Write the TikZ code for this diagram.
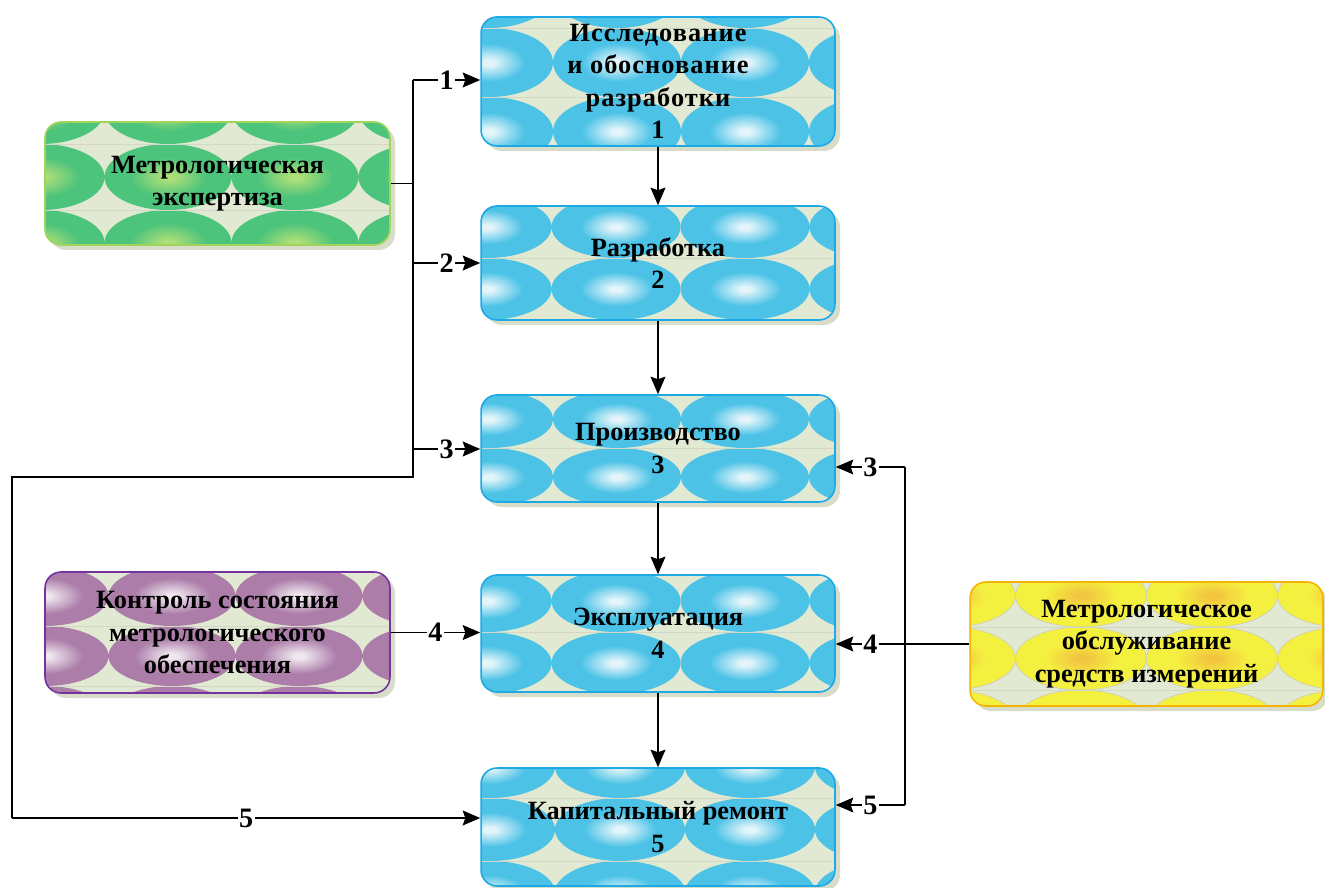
\documentclass[tikz,border=0pt]{standalone}
\usepackage{fontspec}
\setmainfont{Liberation Serif}
\usetikzlibrary{arrows.meta}

\definecolor{tilebg}{HTML}{E2E9D3}
\definecolor{seamc}{HTML}{D2D7C7}
\definecolor{shadowc}{HTML}{D8DDCA}
\definecolor{blueO}{HTML}{4BC2E6}
\definecolor{blueC}{HTML}{E4F5FA}
\definecolor{blueB}{HTML}{1CA9E6}
\definecolor{greenO}{HTML}{4DC47B}
\definecolor{greenC}{HTML}{AEDF78}
\definecolor{greenB}{HTML}{A2D35A}
\definecolor{purpO}{HTML}{AC7DA9}
\definecolor{purpC}{HTML}{F0E8F0}
\definecolor{purpB}{HTML}{7434A0}
\definecolor{yellO}{HTML}{F4F040}
\definecolor{yellC}{HTML}{F2C440}
\definecolor{yellB}{HTML}{F5B400}

\pgfdeclareradialshading{blueell}{\pgfpoint{0bp}{0bp}}{color(0bp)=(blueC);color(2bp)=(blueC);color(14bp)=(blueO);color(25bp)=(blueO);color(50bp)=(blueO)}
\pgfdeclareradialshading{greenell}{\pgfpoint{0bp}{0bp}}{color(0bp)=(greenC);color(2bp)=(greenC);color(15bp)=(greenO);color(25bp)=(greenO);color(50bp)=(greenO)}
\pgfdeclareradialshading{purpell}{\pgfpoint{0bp}{0bp}}{color(0bp)=(purpC);color(2bp)=(purpC);color(15bp)=(purpO);color(25bp)=(purpO);color(50bp)=(purpO)}
\pgfdeclareradialshading{yellell}{\pgfpoint{0bp}{0bp}}{color(0bp)=(yellC);color(2bp)=(yellC);color(14bp)=(yellO);color(25bp)=(yellO);color(50bp)=(yellO)}

% #1 x1, #2 y1, #3 x2, #4 y2, #5 ellipse style, #6 first column centre, #7 first row centre, #8 tile width, #9 tile height
\newcommand\tilebox[9]{%
  \fill[shadowc, rounded corners=0.32cm] ({#1+5},{#2+5}) rectangle ({#3+5},{#4+5});
  \begin{scope}
    \clip[rounded corners=0.32cm] (#1,#2) rectangle (#3,#4);
    \fill[tilebg] (#1,#2) rectangle (#3,#4);
    \foreach \i in {0,...,4}{%
      \foreach \j in {0,...,3}{%
        \shade[#5] ({#6+\i*#8},{#7+\j*#9}) ellipse ({#8/2} and {#9/2});
      }%
    }%
    \foreach \j in {0,...,3}{%
      \draw[seamc, line width=0.3pt] (#1,{#7+#9/2+\j*#9}) -- (#3,{#7+#9/2+\j*#9});
    }%
  \end{scope}%
}

\begin{document}
\begin{tikzpicture}[x=0.02cm, y=-0.02cm,
  box/.style={rectangle, rounded corners=0.32cm, line width=0.9pt, align=center,
    inner sep=0pt, font=\bfseries\fontsize{15}{18.5}\selectfont},
  bluebox/.style={box, draw=blueB, minimum width=7.08cm},
  lab/.style={fill=white, inner sep=0.8pt, font=\bfseries\fontsize{16}{16}\selectfont},
  conn/.style={line width=0.75pt},
  arr/.style={conn, -{Stealth[length=10pt,width=8.5pt,inset=1.5pt]}}]
\useasboundingbox (0,0) rectangle (1325,888);

% patterned backgrounds
\tilebox{481}{17}{835}{146}{shading=blueell}{489}{-6.5}{128}{69}
\tilebox{481}{206}{835}{320}{shading=blueell}{487}{227}{129}{62}
\tilebox{481}{395}{835}{502}{shading=blueell}{489}{419}{128}{58}
\tilebox{481}{575}{835}{692}{shading=blueell}{487}{601}{129}{62}
\tilebox{481}{768}{835}{886}{shading=blueell}{490}{766.5}{130}{63}
\tilebox{45}{122}{390}{245}{shading=greenell}{41}{111}{127}{66}
\tilebox{45}{572}{390}{693}{shading=purpell}{45}{596}{127}{60}
\tilebox{970}{582}{1323}{706}{shading=yellell, draw=black!22, line width=0.3pt}{950}{595.5}{131}{63}

% nodes
\node[bluebox, minimum height=2.58cm] (b1) at (658,81.5) {\addfontfeatures{LetterSpace=4}Исследование\\\addfontfeatures{LetterSpace=4}и обоснование\\\addfontfeatures{LetterSpace=4}разработки\\1};
\node[bluebox, minimum height=2.28cm] (b2) at (658,263) {Разработка\\2};
\node[bluebox, minimum height=2.14cm] (b3) at (658,448.5) {Производство\\3};
\node[bluebox, minimum height=2.34cm] (b4) at (658,633.5) {Эксплуатация\\4};
\node[bluebox, minimum height=2.36cm] (b5) at (658,827) {Капитальный ремонт\\5};
\node[box, draw=greenB, minimum width=6.9cm, minimum height=2.46cm] (g) at (217.5,183.5) {Метрологическая\\экспертиза};
\node[box, draw=purpB, minimum width=6.9cm, minimum height=2.42cm] (p) at (217.5,632.5) {Контроль состояния\\метрологического\\обеспечения};
\node[box, draw=yellB, minimum width=7.06cm, minimum height=2.48cm] (y) at (1146.5,644) {Метрологическое\\обслуживание\\средств измерений};

% junction coordinates
\coordinate (gj) at (413,183.5);
\coordinate (t1) at (413,80);
\coordinate (t2) at (413,263);
\coordinate (t3) at (413,449);
\coordinate (tb) at (413,477);
\coordinate (l1) at (12,477);
\coordinate (l2) at (12,818);
\coordinate (r3) at (905,467);
\coordinate (r5) at (905,805);

% connectors
\draw[arr] (b1.south) -- (b2.north);
\draw[arr] (b2.south) -- (b3.north);
\draw[arr] (b3.south) -- (b4.north);
\draw[arr] (b4.south) -- (b5.north);

\draw[conn] (g.east) -- (gj);
\draw[conn] (t1) -- (tb) -- (l1) -- (l2);
\draw[arr] (t1) -- node[lab]{1} (b1.west |- t1);
\draw[arr] (t2) -- node[lab]{2} (b2.west |- t2);
\draw[arr] (t3) -- node[lab]{3} (b3.west |- t3);
\draw[arr] (l2) -- node[lab]{5} (b5.west |- l2);
\draw[arr] (p.east) -- node[lab]{4} (b4.west |- p.east);

\draw[conn] (r3) -- (r5);
\draw[arr] (y.west) -- node[lab, pos=0.74]{4} (b4.east |- y.west);
\draw[arr] (r3) -- node[lab]{3} (b3.east |- r3);
\draw[arr] (r5) -- node[lab]{5} (b5.east |- r5);
\end{tikzpicture}
\end{document}
